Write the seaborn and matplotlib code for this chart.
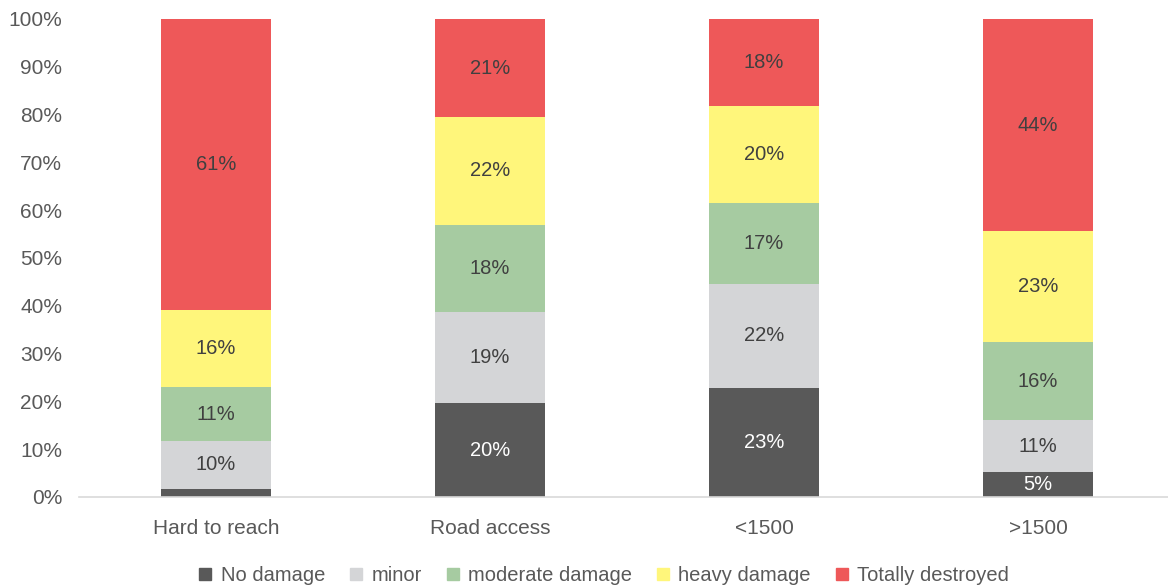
import matplotlib
matplotlib.use("Agg")
import matplotlib.pyplot as plt
import seaborn as sns
import numpy as np
import pandas as pd
from matplotlib.lines import Line2D

categories = ["Hard to reach", "Road access", "<1500", ">1500"]
series_names = ["No damage", "minor", "moderate damage", "heavy damage", "Totally destroyed"]
no_damage = [1.7, 19.6, 22.8, 5.2]
minor = [10.0, 19.2, 21.8, 10.8]
moderate = [11.3, 18.2, 16.8, 16.4]
heavy = [16.1, 22.4, 20.4, 23.2]
destroyed = [60.9, 20.6, 18.2, 44.4]
colors = ["#595959", "#D4D5D7", "#A6CBA1", "#FFF67B", "#EE5859"]
label_colors = ["white", "#404040", "#404040", "#404040", "#404040"]

sns.set_theme(style="white")
plt.rcParams["font.family"] = ["Liberation Sans", "DejaVu Sans"]

layers = [no_damage, minor, moderate, heavy, destroyed]
cum = np.cumsum(np.array(layers), axis=0)

fig = plt.figure(figsize=(11.68, 5.88), dpi=100)
ax = fig.add_axes([0.0676, 0.1548, 0.9384, 0.8129])

# draw from top layer down so each cumulative bar shows its segment
for i in range(len(layers) - 1, -1, -1):
    df = pd.DataFrame({"cat": categories, "val": cum[i]})
    sns.barplot(data=df, x="cat", y="val", order=categories, color=colors[i],
                saturation=1, width=0.4, ax=ax, errorbar=None, linewidth=0)

# data labels
for i, layer in enumerate(layers):
    for j, v in enumerate(layer):
        if v < 3:
            continue
        mid = cum[i][j] - v / 2
        ax.text(j, mid, f"{round(v):.0f}%", ha="center", va="center",
                fontsize=14.5, color=label_colors[i])

ax.set_ylim(0, 100)
ax.set_xlim(-0.5, 3.5)
ax.set_yticks(np.arange(0, 101, 10))
ax.set_yticklabels([f"{t}%" for t in range(0, 101, 10)])
ax.set_xlabel("")
ax.set_ylabel("")
ax.tick_params(axis="y", length=0, pad=12, labelsize=15, labelcolor="#595959")
ax.tick_params(axis="x", length=0, pad=16, labelsize=15, labelcolor="#595959")
for s in ["top", "right", "left"]:
    ax.spines[s].set_visible(False)
ax.spines["bottom"].set_color("#D9D9D9")
ax.spines["bottom"].set_linewidth(1.2)
ax.grid(False)

handles = [Line2D([0], [0], marker="s", linestyle="none", markersize=8,
                  markerfacecolor=c, markeredgecolor=c) for c in colors]
fig.legend(handles, series_names, loc="center", bbox_to_anchor=(0.516, 0.022),
           ncol=5, frameon=False, fontsize=14.5, handletextpad=0.3,
           columnspacing=1.1, labelcolor="#595959", handlelength=0.9)

fig.savefig("out.png", dpi=100)
